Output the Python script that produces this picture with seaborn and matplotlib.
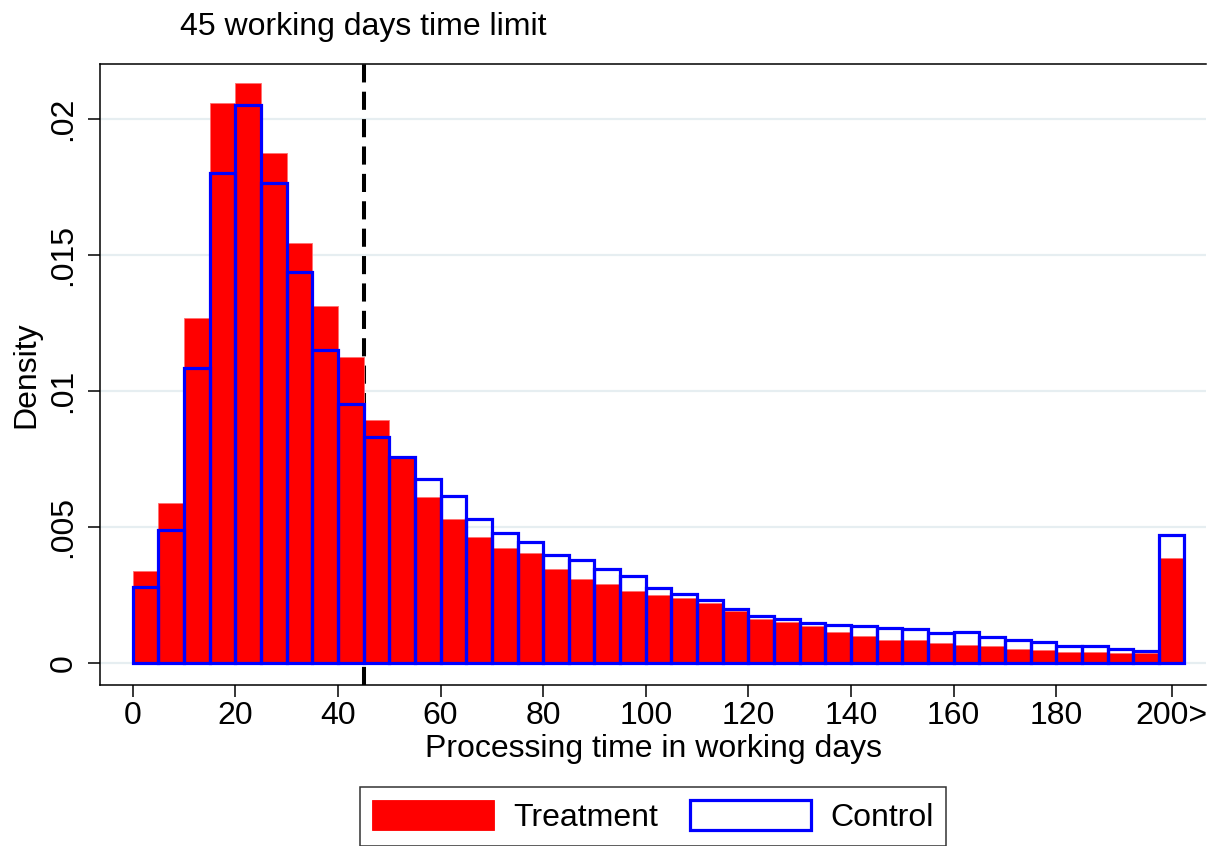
import numpy as np
import pandas as pd
import matplotlib
matplotlib.use("Agg")
import matplotlib.pyplot as plt
from matplotlib.patches import Patch
import seaborn as sns

# density per 5-day bin (0-5, 5-10, ..., 195-200, 200+)
treatment = [0.00338, 0.00588, 0.01267, 0.02060, 0.02131, 0.01874, 0.01545, 0.01314,
             0.01125, 0.00893, 0.00757, 0.00612, 0.00531, 0.00462, 0.00422, 0.00403,
             0.00344, 0.00308, 0.00289, 0.00266, 0.00249, 0.00239, 0.00219, 0.00192,
             0.00162, 0.00150, 0.00135, 0.00114, 0.00100, 0.00084, 0.00085, 0.00073,
             0.00068, 0.00064, 0.00052, 0.00047, 0.00042, 0.00040, 0.00037, 0.00036,
             0.00387]
control = [0.00278, 0.00489, 0.01085, 0.01803, 0.02053, 0.01765, 0.01436, 0.01150,
           0.00951, 0.00832, 0.00759, 0.00676, 0.00614, 0.00528, 0.00477, 0.00446,
           0.00396, 0.00379, 0.00346, 0.00321, 0.00276, 0.00254, 0.00230, 0.00200,
           0.00174, 0.00163, 0.00148, 0.00139, 0.00136, 0.00129, 0.00126, 0.00111,
           0.00113, 0.00096, 0.00083, 0.00079, 0.00062, 0.00062, 0.00050, 0.00043,
           0.00472]
bin_width = 5
xtick_vals = [0, 20, 40, 60, 80, 100, 120, 140, 160, 180, 202.5]
xtick_labels = ["0", "20", "40", "60", "80", "100", "120", "140", "160", "180", "200>"]
ytick_vals = [0, 0.005, 0.01, 0.015, 0.02]
ytick_labels = ["0", ".005", ".01", ".015", ".02"]
time_limit = 45

n_bins = len(treatment)
df = pd.DataFrame({"start": np.arange(n_bins) * bin_width + bin_width / 2,
                   "treatment": treatment, "control": control})

sns.set_style("white")
plt.rcParams["font.family"] = ["Liberation Sans", "DejaVu Sans"]
plt.rcParams["text.color"] = "black"
plt.rcParams["axes.labelcolor"] = "black"
plt.rcParams["xtick.color"] = "black"
plt.rcParams["ytick.color"] = "black"
fs = 23

fig = plt.figure(figsize=(12.17, 8.46), dpi=100)
ax = fig.add_axes([0.0822, 0.1903, 0.9088, 0.734])

# grid
for v in ytick_vals:
    ax.axhline(v, color="#e6eef1", lw=1.6, zorder=0)

ax.axvline(time_limit, color="black", lw=2.9, linestyle=(0, (4.5, 2.3)), zorder=0.5)

brange = (0, n_bins * bin_width)
sns.histplot(data=df, x="start", weights="treatment", binwidth=bin_width, binrange=brange,
             stat="count", color="red", alpha=1, edgecolor="#ff7070", linewidth=0.6, ax=ax)
sns.histplot(data=df, x="start", weights="control", binwidth=bin_width, binrange=brange,
             stat="count", fill=False, color="blue", linewidth=2.3, ax=ax)

ax.set_xlim(-6.37, 209.2)
ax.set_ylim(-0.000809, 0.02202)
ax.set_xticks(xtick_vals)
ax.set_xticklabels(xtick_labels, fontsize=fs)
ax.set_yticks(ytick_vals)
ax.set_yticklabels(ytick_labels, fontsize=fs, rotation=90, va="center")
ax.tick_params(axis="both", direction="out", length=8.6, width=1.1, color="black",
               bottom=True, left=True)
ax.tick_params(axis="x", pad=3)
ax.tick_params(axis="y", pad=7)
ax.set_xlabel("Processing time in working days", fontsize=fs, labelpad=2)
ax.set_ylabel("Density", fontsize=fs, labelpad=5)

for s in ["left", "bottom", "top"]:
    ax.spines[s].set_color("black")
    ax.spines[s].set_linewidth(1.1)
ax.spines["right"].set_visible(False)

ax.text(time_limit, 1.0596, "45 working days time limit", fontsize=fs,
        ha="center", va="center", transform=ax.get_xaxis_transform())

handles = [Patch(facecolor="red", edgecolor="red", linewidth=0.6),
           Patch(facecolor="white", edgecolor="blue", linewidth=2.3)]
leg = fig.legend(handles, ["Treatment", "Control"], loc="center",
                 bbox_to_anchor=(0.5366, 0.035), ncol=2, fontsize=fs,
                 handlelength=3.8, handleheight=1.08, handletextpad=0.6,
                 columnspacing=1.0, borderpad=0.4, fancybox=False, frameon=True)
leg.get_frame().set_edgecolor("black")
leg.get_frame().set_linewidth(1.1)

fig.savefig("out.png", dpi=100)
